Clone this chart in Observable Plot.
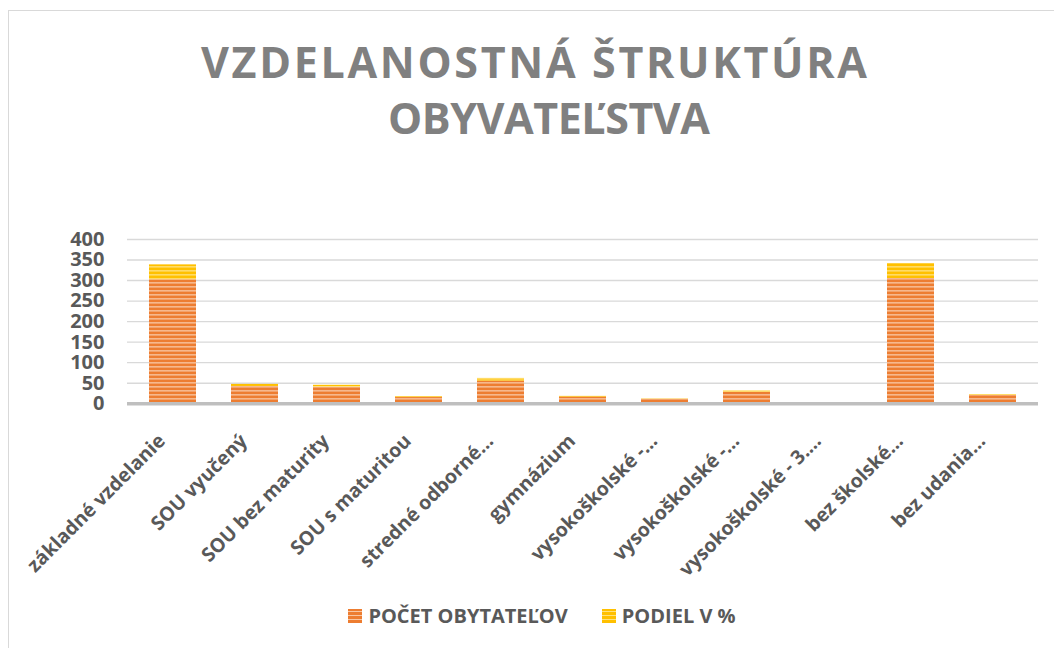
<!DOCTYPE html>
<html>
<head>
<meta charset="utf-8">
<script src="https://cdn.jsdelivr.net/npm/d3@7"></script>
<script src="https://cdn.jsdelivr.net/npm/@observablehq/plot@0.6"></script>
<style>
  html, body { margin: 0; padding: 0; background: #fff; }
  #wrap { position: relative; width: 1054px; height: 648px; overflow: hidden; font-family: "Open Sans", sans-serif; }
  #frame { position: absolute; left: 8px; top: 10px; width: 1100px; height: 700px; border: 1.5px solid #d9d9d9; box-sizing: border-box; }
  .tline { position: absolute; white-space: nowrap; font-weight: 700; color: #808080; font-size: 43px; line-height: 1; }
  #chart { position: absolute; left: 0; top: 0; }
  #legend { position: absolute; top: 602px; left: 0; width: 1084px; display: flex; justify-content: center; gap: 34px; font-weight: 700; font-size: 20px; color: #595959; }
  .li { display: flex; align-items: center; gap: 6px; }
  .sw { width: 14px; height: 14px; }
</style>
</head>
<body>
<div id="wrap">
  <div id="frame"></div>
  <div id="t1" class="tline"></div>
  <div id="t2" class="tline"></div>
  <div id="chart"></div>
  <div id="legend"></div>
</div>
<script>
// ---- data ----
const titleLines = ["VZDELANOSTNÁ ŠTRUKTÚRA", "OBYVATEĽSTVA"];
const categories = ["základné vzdelanie", "SOU vyučený", "SOU bez maturity", "SOU s maturitou", "stredné odborné…", "gymnázium", "vysokoškolské -…", "vysokoškolské -…", "vysokoškolské - 3.…", "bez školské…", "bez udania…"];
const counts = [302, 42, 40, 15, 55, 16, 11, 28, 0, 305, 20];
const shares = [36.2, 5.0, 4.8, 1.8, 6.6, 1.9, 1.3, 3.4, 0, 36.6, 2.4];
const series = ["POČET OBYTATEĽOV", "PODIEL V %"];
const yTicks = [0, 50, 100, 150, 200, 250, 300, 350, 400];

// ---- styles ----
const baseColors = ["#ED7D31", "#FFC000"];
const stripeColors = ["#F9C7A4", "#FFE27F"];
const patternIds = ["pOrange", "pYellow"];

// title: fit each line to its measured width in the reference
const titleSpec = [{ center: 534, top: 40, width: 666 }, { center: 549, top: 96, width: 322 }];
titleLines.forEach((txt, k) => {
  const el = document.getElementById("t" + (k + 1));
  el.textContent = txt;
  el.style.letterSpacing = "0px";
  const natural = el.getBoundingClientRect().width;
  const n = txt.length;
  const ls = (titleSpec[k].width - natural) / (n - 1);
  el.style.letterSpacing = ls + "px";
  const w = el.getBoundingClientRect().width - ls;
  el.style.left = (titleSpec[k].center - w / 2) + "px";
  el.style.top = titleSpec[k].top + "px";
});

const data = categories.flatMap((c, i) => [
  { i, s: series[0], v: counts[i] },
  { i, s: series[1], v: shares[i] }
]);

const chart = Plot.plot({
  width: 1054,
  height: 600,
  marginTop: 239,
  marginBottom: 196.8,
  marginLeft: 127,
  marginRight: 16,
  style: { fontFamily: "Open Sans", fontWeight: 700, fontSize: "20px", color: "#595959", background: "transparent" },
  x: { type: "band", domain: d3.range(categories.length), paddingInner: 0.425, paddingOuter: 0.2125, axis: null },
  y: { domain: [0, 400], ticks: yTicks, tickSize: 0, tickPadding: 23, label: null },
  color: { domain: series, range: patternIds.map(id => `url(#${id})`) },
  marks: [
    Plot.gridY(yTicks, { stroke: "#d9d9d9", strokeOpacity: 1, strokeWidth: 1.4 }),
    Plot.barY(data, { x: "i", y: "v", fill: "s", order: series }),
    Plot.ruleY([0], { stroke: "#bfbfbf", strokeWidth: 3.5 }),
    Plot.text(d3.range(categories.length), {
      x: d => d, y: 0, text: d => categories[d],
      rotate: -45, textAnchor: "end", lineAnchor: "middle",
      dx: -11, dy: 34, fontSize: 19.5, fontWeight: 700, fill: "#595959"
    })
  ]
});

// stripe patterns
const defs = d3.select(chart).insert("defs", ":first-child");
patternIds.forEach((id, k) => {
  const p = defs.append("pattern").attr("id", id).attr("patternUnits", "userSpaceOnUse")
    .attr("width", 8).attr("height", 4);
  p.append("rect").attr("width", 8).attr("height", 4).attr("fill", baseColors[k]);
  p.append("rect").attr("y", 2.2).attr("width", 8).attr("height", 1.3).attr("fill", stripeColors[k]);
});
document.getElementById("chart").appendChild(chart);

// legend
const legend = document.getElementById("legend");
series.forEach((s, k) => {
  const item = document.createElement("div");
  item.className = "li";
  const sw = document.createElement("div");
  sw.className = "sw";
  sw.style.background = `repeating-linear-gradient(to bottom, ${baseColors[k]} 0px, ${baseColors[k]} 2.2px, ${stripeColors[k]} 2.2px, ${stripeColors[k]} 3.5px, ${baseColors[k]} 3.5px, ${baseColors[k]} 4px)`;
  const tx = document.createElement("span");
  tx.textContent = s;
  item.appendChild(sw);
  item.appendChild(tx);
  legend.appendChild(item);
});
</script>
</body>
</html>
